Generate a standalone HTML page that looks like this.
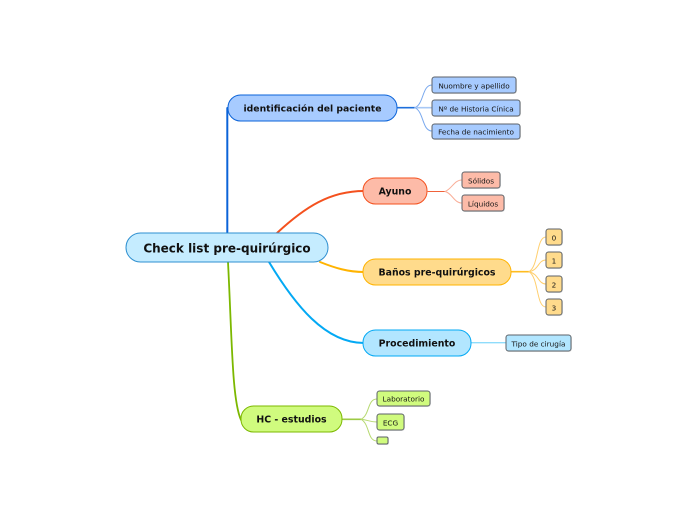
<!DOCTYPE html>
<html>
<head>
<meta charset="utf-8">
<style>
html,body{margin:0;padding:0;background:#fff;}
#c{position:relative;width:697px;height:520px;overflow:hidden;background:#fff;font-family:"DejaVu Sans","Liberation Sans",sans-serif;}
svg{position:absolute;left:0;top:0;}
#w{position:absolute;left:0;top:0;width:697px;height:520px;transform:translate(-.5px,-.5px);}
.n{position:absolute;box-sizing:border-box;display:flex;align-items:center;justify-content:center;white-space:nowrap;color:#111;padding-top:2px;}
.m{font-weight:bold;font-size:9.4px;border-width:1.5px;border-style:solid;border-radius:13px;}
.n.l{font-size:7.3px;color:#151515;border:1.2px solid #5c6268;border-radius:3px;box-shadow:.5px .5px 0 #e6e6e6;padding-top:1px;}
</style>
</head>
<body>
<div id="c">
<svg width="697" height="520" fill="none" stroke-linecap="round">
<path d="M227.3 234V108" stroke="#0b63d8" stroke-width="2"/>
<path d="M277 233C305 207 330 191 364 191" stroke="#f4511e" stroke-width="2"/>
<path d="M320 262C335 268 348 272 364 272" stroke="#ffb300" stroke-width="2"/>
<path d="M269 262C295 305 325 343 364 343" stroke="#03a9f4" stroke-width="2"/>
<path d="M228 262C232 340 232 400 241 420" stroke="#7cb800" stroke-width="1.8"/>

<path d="M398 107.7H415" stroke="#1e6fdc" stroke-width="1.6"/>
<path d="M415 107.7C424 104 422 85 432 85" stroke="#7aa9ee" stroke-width="1"/>
<path d="M415 107.7H432" stroke="#a8c8f5" stroke-width="1.6"/>
<path d="M415 107.7C424 112 422 131 432 131" stroke="#7aa9ee" stroke-width="1"/>

<path d="M428 191.5H445" stroke="#f0623a" stroke-width="1"/>
<path d="M445 191.5C452 189 454 180 462 180" stroke="#f9ae98" stroke-width="1"/>
<path d="M445 191.5C452 193 454 203 462 203" stroke="#f9ae98" stroke-width="1"/>

<path d="M512 271.7H529" stroke="#ffbc20" stroke-width="1.6"/>
<path d="M529 271.7C539 266 536 237 546 237" stroke="#ffcf6e" stroke-width="1"/>
<path d="M529 271.7C539 270 538 260 546 260" stroke="#ffcf6e" stroke-width="1"/>
<path d="M529 271.7C539 274 538 284 546 284" stroke="#ffcf6e" stroke-width="1"/>
<path d="M529 271.7C539 278 536 307 546 307" stroke="#ffcf6e" stroke-width="1"/>

<path d="M472 342.7H506" stroke="#8fdcfb" stroke-width="1.3"/>

<path d="M343 419.3H361" stroke="#9dca45" stroke-width="1.6"/>
<path d="M361 419.3C370 415 367 399 377 399" stroke="#b6d970" stroke-width="1"/>
<path d="M361 419.3C368 420 370 422 377 422" stroke="#b6d970" stroke-width="1"/>
<path d="M361 419.3C370 424 367 441 377 441" stroke="#b6d970" stroke-width="1"/>
</svg>

<div id="w">
<div class="n" style="left:126px;top:233px;width:203px;height:30px;border:1.4px solid #2e8fd0;border-radius:15px;background:#c5ecff;font-weight:bold;font-size:12px;color:#111;">Check list pre-quirúrgico</div>

<div class="n m" style="left:228px;top:95px;width:170px;height:27px;background:#a7cbff;border-color:#0b63d8;font-size:9.25px;">identificación del paciente</div>
<div class="n m" style="left:363px;top:178px;width:65px;height:27px;background:#fdbba8;border-color:#f4511e;">Ayuno</div>
<div class="n m" style="left:363px;top:259px;width:149px;height:27px;background:#ffdb8c;border-color:#ffb300;">Baños pre-quirúrgicos</div>
<div class="n m" style="left:363px;top:330px;width:109px;height:27px;background:#b2e6ff;border-color:#03a9f4;">Procedimiento</div>
<div class="n m" style="left:241px;top:406px;width:102px;height:27px;background:#d0fb7e;border-color:#7cb800;">HC - estudios</div>

<div class="n l" style="left:432px;top:77px;width:85px;height:17px;background:#a7cbff;">Nuombre y apellido</div>
<div class="n l" style="left:432px;top:100px;width:89px;height:17px;background:#a7cbff;">Nº de Historia Cínica</div>
<div class="n l" style="left:432px;top:124px;width:89px;height:16px;background:#a7cbff;">Fecha de nacimiento</div>

<div class="n l" style="left:462px;top:172px;width:39px;height:17px;background:#fdbba8;">Sólidos</div>
<div class="n l" style="left:462px;top:195px;width:43px;height:17px;background:#fdbba8;">Líquidos</div>

<div class="n l" style="left:546px;top:229px;width:17px;height:17px;background:#ffdb8c;">0</div>
<div class="n l" style="left:546px;top:252px;width:17px;height:17px;background:#ffdb8c;">1</div>
<div class="n l" style="left:546px;top:276px;width:17px;height:17px;background:#ffdb8c;">2</div>
<div class="n l" style="left:546px;top:299px;width:17px;height:17px;background:#ffdb8c;">3</div>

<div class="n l" style="left:506px;top:335px;width:66px;height:17px;background:#b2e6ff;">Tipo de cirugía</div>

<div class="n l" style="left:377px;top:391px;width:54px;height:16px;background:#d0fb7e;">Laboratorio</div>
<div class="n l" style="left:377px;top:414px;width:28px;height:17px;background:#d0fb7e;">ECG</div>
<div class="n l" style="left:377px;top:437px;width:12px;height:8px;background:#d0fb7e;padding:0;border-radius:2px;"></div>
</div>
</div>
</body>
</html>
